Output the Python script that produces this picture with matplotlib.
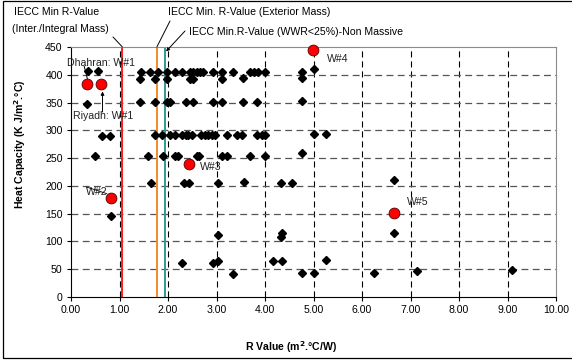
import matplotlib
matplotlib.use('Agg')
import matplotlib.pyplot as plt
from matplotlib.patches import Rectangle

plt.rcParams['font.family'] = ['Liberation Sans', 'DejaVu Sans']

# walls (diamonds): R value and heat capacity
r_values = [0.35, 0.55, 0.34, 0.64, 0.80, 0.49, 0.82,
            1.44, 1.63, 1.79, 1.97, 2.14, 2.28, 2.45, 2.52, 2.59, 2.66, 2.72,
            2.93, 3.11, 3.33, 3.69, 3.77, 3.86, 4.00, 4.76, 5.00,
            1.42, 1.73, 1.98, 2.45, 2.52, 3.11, 3.55, 4.76,
            1.42, 1.73, 1.97, 2.04, 2.38, 2.51, 2.93, 3.11, 3.55, 3.84, 4.76,
            1.73, 1.87, 2.04, 2.14, 2.28, 2.38, 2.42, 2.49, 2.69, 2.76, 2.83,
            2.90, 2.96, 3.21, 3.42, 3.52, 3.83, 3.93, 4.00, 5.00, 5.26,
            1.58, 1.89, 2.14, 2.21, 2.59, 2.64, 3.11, 3.22, 3.69, 4.00, 4.76,
            1.64, 2.34, 2.44, 3.04, 3.57, 4.34, 4.55, 6.67,
            3.04, 4.34, 4.35, 6.67,
            2.28, 2.93, 3.04, 3.33, 4.17, 4.36, 4.76, 5.00, 5.26, 6.25, 7.14, 9.09]
hc_values = [407, 407, 347, 290, 290, 253, 145,
             405, 405, 405, 405, 405, 405, 405, 405, 405, 405, 405,
             405, 405, 405, 405, 405, 405, 405, 405, 410,
             392, 392, 392, 393, 393, 393, 395, 395,
             351, 351, 351, 351, 351, 351, 351, 351, 351, 351, 352,
             291, 291, 291, 291, 291, 291, 291, 291, 291, 291, 291,
             291, 291, 291, 291, 291, 291, 291, 291, 293, 293,
             254, 254, 254, 254, 254, 254, 254, 254, 254, 254, 259,
             206, 206, 206, 206, 207, 206, 206, 211,
             112, 108, 115, 116,
             62, 62, 64, 41, 65, 65, 43, 44, 67, 44, 47, 49]

# studied walls (red circles)
w_r = [0.34, 0.61, 0.82, 2.43, 4.98, 6.66]
w_hc = [383, 383, 179, 239, 445, 151]

# IECC minimum R-values
iecc_r = [1.06, 1.77, 1.94]
iecc_colors = ['#FF1A1A', '#F58A2A', '#2E9A94']

x_ticks = [0, 1, 2, 3, 4, 5, 6, 7, 8, 9, 10]
y_ticks = [0, 50, 100, 150, 200, 250, 300, 350, 400, 450]

fs = 7.6
fig = plt.figure(figsize=(5.72, 3.62), dpi=100)
ax = fig.add_axes([71 / 572, 1 - 297 / 362, 485 / 572, 250 / 362])

ax.set_xlim(0, 10)
ax.set_ylim(0, 450)
ax.set_xticks(x_ticks)
ax.set_xticklabels([f'{v:.2f}' for v in x_ticks])
ax.set_yticks(y_ticks)
ax.tick_params(labelsize=fs, direction='out', length=3, width=0.8, pad=3)

# grid
for x in x_ticks[1:-1]:
    ax.axvline(x, color='black', lw=0.8, dashes=(5.5, 3.5), zorder=1)
for y in y_ticks[1:-1]:
    ax.axhline(y, color='#555555', lw=0.9, dashes=(5.5, 3.5), zorder=1)

for s in ['top', 'right']:
    ax.spines[s].set_color('#8c8c8c')
for s in ['left', 'bottom']:
    ax.spines[s].set_color('black')

for r, c in zip(iecc_r, iecc_colors):
    ax.axvline(r, color=c, lw=1.4, zorder=2)

ax.plot(r_values, hc_values, 'D', color='black', markersize=4.0, zorder=3)
ax.plot(w_r, w_hc, 'o', markerfacecolor='#FF0000', markeredgecolor='#550000',
        markeredgewidth=0.6, markersize=7.8, zorder=4, clip_on=False)

ax.set_xlabel('R Value (m$^{\\mathbf{2}}$.°C/W)', fontsize=fs, fontweight='bold')
ax.xaxis.set_label_coords((291 - 71) / 485, -(339 - 297) / 250)
ax.set_ylabel('Heat Capacity (K J/m$^{\\mathbf{2}}$.°C)', fontsize=fs, fontweight='bold')
ax.yaxis.set_label_coords(-(71 - 28) / 485, (297 - 144) / 250)

# point labels
ax.text(-0.08, 421, 'Dhahran: W#1', fontsize=fs, va='center', color='#222222')
ax.annotate('', xy=(0.34, 392), xytext=(0.27, 416), annotation_clip=False,
            arrowprops=dict(arrowstyle='-', lw=0.7, color='black', shrinkA=0, shrinkB=0))
ax.text(0.04, 326, 'Riyadh: W#1', fontsize=fs, va='center', color='#222222')
ax.annotate('', xy=(0.65, 370), xytext=(0.65, 333),
            arrowprops=dict(arrowstyle='-|>', lw=0.7, color='black',
                            mutation_scale=5, shrinkA=0, shrinkB=0))
ax.text(0.31, 189, 'W#2', fontsize=fs, va='center', color='#222222')
ax.annotate('', xy=(0.74, 186), xytext=(0.32, 198),
            arrowprops=dict(arrowstyle='-', lw=0.6, color='black', shrinkA=0, shrinkB=0))
ax.text(2.66, 234, 'W#3', fontsize=fs, va='center', color='#222222')
ax.text(5.28, 428, 'W#4', fontsize=fs, va='center', color='#222222')
ax.text(6.93, 171, 'W#5', fontsize=fs, va='center', color='#222222')

# IECC labels above the plot
fig.text(14 / 572, 350 / 362, 'IECC Min R-Value', fontsize=fs, va='center')
fig.text(12 / 572, 333 / 362, '(Inter./Integral Mass)', fontsize=fs, va='center')
fig.text(168 / 572, 350 / 362, 'IECC Min. R-Value (Exterior Mass)', fontsize=fs, va='center')
fig.text(189 / 572, 330 / 362, 'IECC Min.R-Value (WWR<25%)-Non Massive', fontsize=fs, va='center')
ax.annotate('', xy=(iecc_r[0], 450), xytext=(113, 362 - 37), textcoords='figure pixels',
            arrowprops=dict(arrowstyle='-', lw=0.7, color='black', shrinkA=0, shrinkB=0))
ax.annotate('', xy=(iecc_r[1], 450), xytext=(170, 362 - 21), textcoords='figure pixels',
            arrowprops=dict(arrowstyle='-', lw=0.7, color='black', shrinkA=0, shrinkB=0))
ax.annotate('', xy=(iecc_r[2] + 0.02, 442), xytext=(185, 362 - 31), textcoords='figure pixels',
            arrowprops=dict(arrowstyle='-|>', lw=0.7, color='black',
                            mutation_scale=5, shrinkA=0, shrinkB=0))

# outer chart frame
fig.patches.append(Rectangle((3 / 572, 4 / 362), 580 / 572, 357 / 362,
                             transform=fig.transFigure, fill=False,
                             edgecolor='black', lw=0.9))

fig.savefig('out.png', dpi=100)
